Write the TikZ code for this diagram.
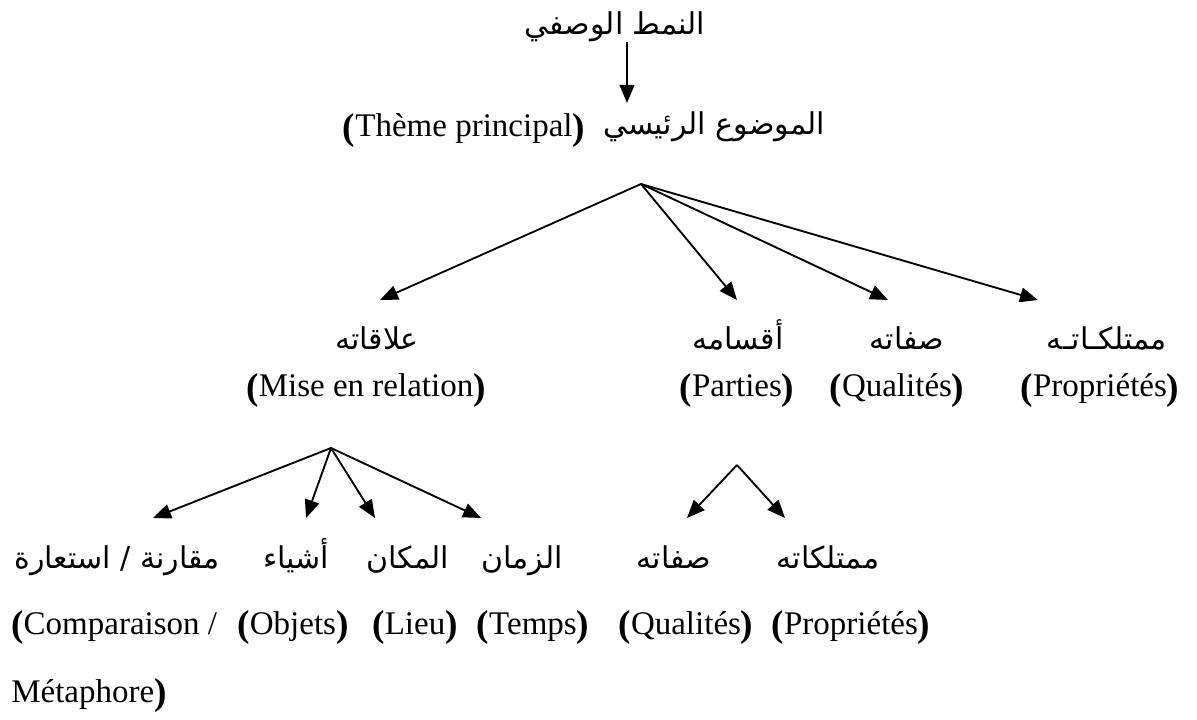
\documentclass[tikz,border=0pt]{standalone}
\usepackage{fontspec}
\setmainfont{Liberation Serif}
\newfontfamily\arabicfont[Script=Arabic]{DejaVu Sans}
\TeXXeTstate=1
\usetikzlibrary{arrows.meta}
% heavier, slightly larger brackets round the French glosses
\newcommand\lpar{\raisebox{-2pt}{\fontsize{28}{30}\selectfont\bfseries (}}
\newcommand\rpar{\raisebox{-2pt}{\fontsize{28}{30}\selectfont\bfseries )}}
\tikzset{
  lat/.style={font=\fontsize{24.75}{30}\selectfont, inner sep=0pt, anchor=base},
  ar/.style={font=\fontsize{22.5}{28}\selectfont\arabicfont, inner sep=0pt, anchor=base},
  link/.style={line width=1.4pt, -{Triangle[length=13.5pt,width=11pt]}},
}
\begin{document}
\begin{tikzpicture}[x=0.75pt,y=-0.75pt]
\useasboundingbox (0,0) rectangle (1197,720);

% title and main theme
\node[ar] (title) at (615,35) {\beginR النمط الوصفي\endR};
\coordinate (titlefoot) at (627,42);
\coordinate (themehead) at (627,103);
\draw[link] (titlefoot) -- (themehead);
\node[lat] (themefr) at (464,137) {\lpar Thème principal\rpar};
\node[ar] (themear) at (714,135) {\beginR الموضوع الرئيسي\endR};

% first level
\coordinate (hub) at (641,184);
\coordinate (relTip) at (380,300);
\coordinate (partTip) at (737,300);
\coordinate (qualTip) at (888,300);
\coordinate (propTip) at (1038,300);
\foreach \t in {relTip,partTip,qualTip,propTip} \draw[link] (hub) -- (\t);

\node[ar] (relar) at (377,350) {\beginR علاقاته\endR};
\node[ar] (partar) at (738,350) {\beginR أقسامه\endR};
\node[ar] (qualar) at (907,350) {\beginR صفاته\endR};
\node[ar] (propar) at (1107,350) {\beginR ممتلكـاتـه\endR};

\node[lat] (relfr) at (366,397) {\lpar Mise en relation\rpar};
\node[lat] (partfr) at (737,397) {\lpar Parties\rpar};
\node[lat] (qualfr) at (897,397) {\lpar Qualités\rpar};
\node[lat] (propfr) at (1100,397) {\lpar Propriétés\rpar};

% relations sub-tree
\coordinate (relHub) at (331,448);
\coordinate (cmpTip) at (153,518);
\coordinate (objTip) at (306,518);
\coordinate (lieuTip) at (375,518);
\coordinate (tempsTip) at (481,518);
\foreach \t in {cmpTip,objTip,lieuTip,tempsTip} \draw[link] (relHub) -- (\t);

\node[ar] (cmpar) at (117,568) {\beginR مقارنة / استعارة\endR};
\node[ar] (objar) at (296,568) {\beginR أشياء\endR};
\node[ar] (lieuar) at (408,568) {\beginR المكان\endR};
\node[ar] (tempsar) at (522,568) {\beginR الزمان\endR};

\node[lat, anchor=base west] (cmpfr) at (11,634) {\lpar Comparaison /};
\node[lat, anchor=base west] (metfr) at (11,702) {Métaphore\rpar};
\node[lat] (objfr) at (293,634) {\lpar Objets\rpar};
\node[lat] (lieufr) at (415,634) {\lpar Lieu\rpar};
\node[lat] (tempsfr) at (533,634) {\lpar Temps\rpar};

% parts sub-tree
\coordinate (partHub) at (737,465);
\coordinate (pqTip) at (687,518);
\coordinate (ppTip) at (785,518);
\foreach \t in {pqTip,ppTip} \draw[link] (partHub) -- (\t);

\node[ar] (pqar) at (674,568) {\beginR صفاته\endR};
\node[ar] (ppar) at (828,568) {\beginR ممتلكاته\endR};
\node[lat] (pqfr) at (686,634) {\lpar Qualités\rpar};
\node[lat] (ppfr) at (851,634) {\lpar Propriétés\rpar};
\end{tikzpicture}
\end{document}
